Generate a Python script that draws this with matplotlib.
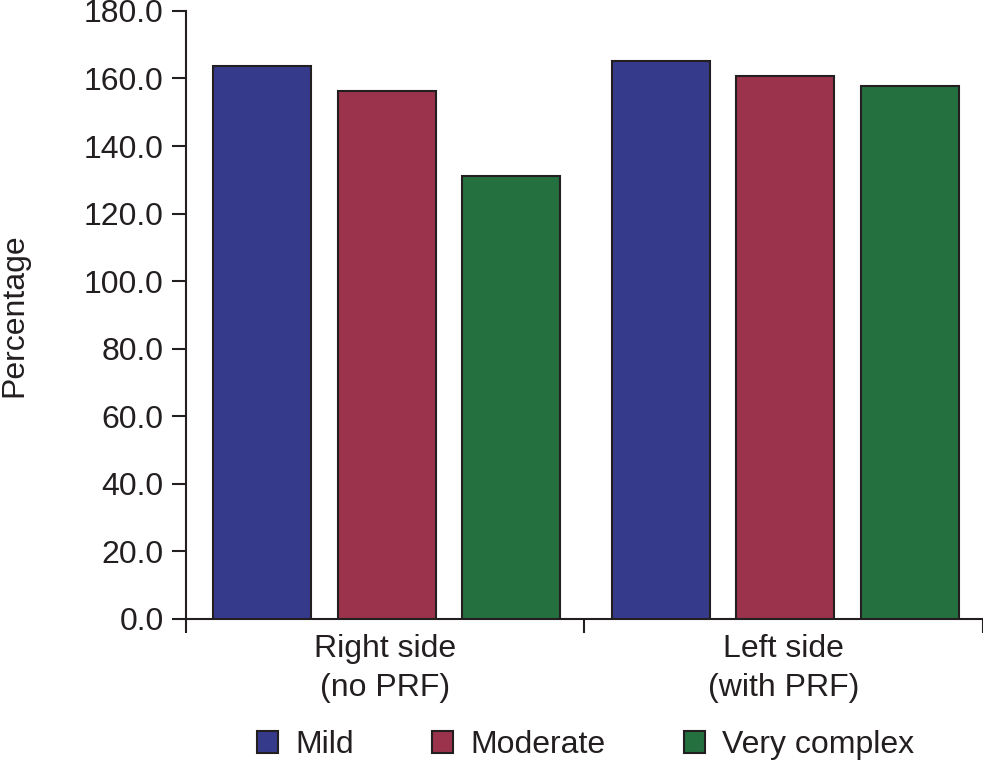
import matplotlib
matplotlib.use('Agg')
import matplotlib.pyplot as plt
import numpy as np

plt.rcParams['font.family'] = ['Liberation Sans', 'DejaVu Sans']

categories = ['Right side\n(no PRF)', 'Left side\n(with PRF)']
series_names = ['Mild', 'Moderate', 'Very complex']
values = {
    'Mild': [163.8, 165.3],
    'Moderate': [156.2, 160.7],
    'Very complex': [131.0, 157.9],
}
colors = ['#353a8b', '#9a334b', '#25703f']
yticks = np.arange(0, 181, 20)
ink = '#231f20'

fig = plt.figure(figsize=(9.83, 7.62), dpi=100)
ax = fig.add_axes([0.189, 0.1877, 0.811, 0.798])

x = np.arange(len(categories))
pitch = 0.312
width = 0.246
for i, name in enumerate(series_names):
    ax.bar(x + (i - 1) * pitch + 0.004, values[name], width, color=colors[i],
           edgecolor=ink, linewidth=1.5, label=name, zorder=3)

ax.set_xlim(-0.5, 1.5)
ax.set_ylim(0, 180)
ax.set_yticks(yticks)
ax.set_yticklabels(['%.1f' % v for v in yticks], fontsize=23, color=ink)
ax.set_xticks([-0.5, 0.5, 1.5])
ax.set_xticklabels(['', '', ''])
ax.tick_params(axis='both', length=10, width=1.5, color=ink, direction='out')
ax.tick_params(axis='y', pad=6)
ax.spines['top'].set_visible(False)
ax.spines['right'].set_visible(False)
for s in ['left', 'bottom']:
    ax.spines[s].set_linewidth(1.5)
    ax.spines[s].set_color(ink)

# category labels under the groups
for xi, lab in zip(x, categories):
    ax.text(xi, -4.4, lab, ha='center', va='top', fontsize=23,
            linespacing=1.42, color=ink)

fig.text(14 / 983, 0.587, 'Percentage', rotation=90, ha='center',
         va='center', fontsize=23, color=ink)

leg = fig.legend(loc='center', bbox_to_anchor=(0.596, 0.022), ncol=3,
                 frameon=False, fontsize=23, handlelength=0.65,
                 handleheight=0.65, columnspacing=2.45, handletextpad=0.55)
for t in leg.get_texts():
    t.set_color(ink)

plt.savefig('out.png', dpi=100)
